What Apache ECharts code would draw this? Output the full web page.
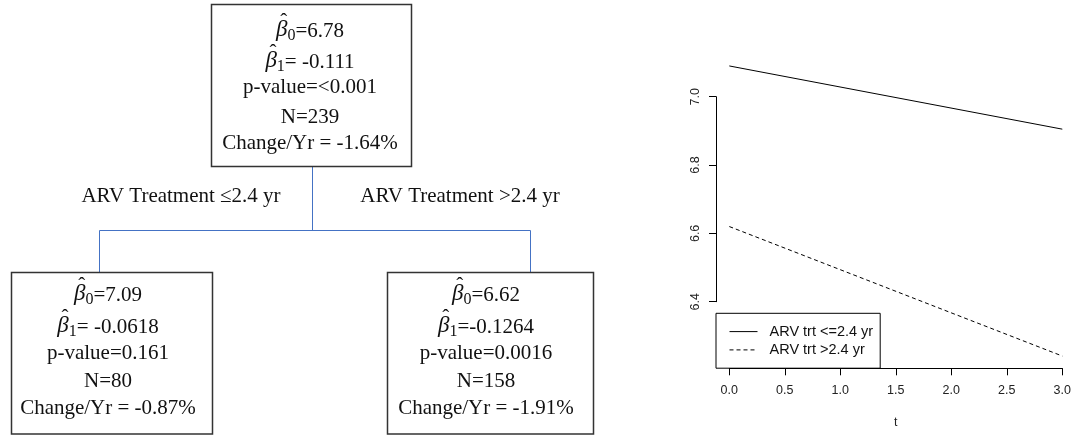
<!DOCTYPE html>
<html>
<head>
<meta charset="utf-8">
<script src="https://cdn.jsdelivr.net/npm/echarts@6/dist/echarts.min.js"></script>
<style>
html,body{margin:0;padding:0;background:#fff;}
#chart{width:1074px;height:436px;}
</style>
</head>
<body>
<div id="chart"></div>
<script>
// ---------- data ----------
const tValues = [0, 3];
const seriesNames = ['ARV trt <=2.4 yr', 'ARV trt >2.4 yr'];
const lowTrtValues = [7.09, 6.905];
const highTrtValues = [6.62, 6.241];

const nodeBeta0 = ['6.78', '7.09', '6.62'];
const nodeBeta1 = [' -0.111', ' -0.0618', '-0.1264'];
const nodePValue = ['<0.001', '0.161', '0.0016'];
const nodeN = ['239', '80', '158'];
const nodeChange = ['-1.64%', '-0.87%', '-1.91%'];
const branchLabels = ['ARV Treatment \u22642.4 yr', 'ARV Treatment >2.4 yr'];

// ---------- layout (diagram) ----------
const boxes = [
  {x: 211, y: 4, w: 200, h: 162, cx: 310, lineY: [31, 62, 87, 117, 143]},
  {x: 11, y: 272, w: 201, h: 161.5, cx: 108, lineY: [295, 327, 353, 381, 408]},
  {x: 387, y: 272, w: 206, h: 161.5, cx: 486, lineY: [295, 327, 353, 381, 408]}
];
const branchPos = [[181, 196], [460, 196]];
const serif = '"Liberation Serif", "Times New Roman", serif';
const fontMain = '21px ' + serif;
const fontBeta = 'italic 23px ' + serif;
const fontSub = '16px ' + serif;
const txtColor = '#111';

const mctx = document.createElement('canvas').getContext('2d');
function textWidth(font, s) { mctx.font = font; return mctx.measureText(s).width; }

const graphics = [];
function addText(text, x, y, font, align) {
  graphics.push({
    type: 'text', z: 11,
    style: {text: text, x: x, y: y, align: align || 'center', verticalAlign: 'middle',
      font: font, fill: txtColor}
  });
}
boxes.forEach((b, i) => {
  graphics.push({
    type: 'rect', z: 10,
    shape: {x: b.x + 0.5, y: b.y + 0.5, width: b.w, height: b.h},
    style: {fill: '#fff', stroke: '#333', lineWidth: 1.5}
  });
  const betaLines = [['0', '=' + nodeBeta0[i]], ['1', '=' + nodeBeta1[i]]];
  betaLines.forEach((bl, k) => {
    const y = b.lineY[k];
    const wB = textWidth(fontBeta, '\u03B2');
    const wS = textWidth(fontSub, bl[0]);
    const wR = textWidth(fontMain, bl[1]);
    const x0 = b.cx - (wB + wS + wR) / 2;
    addText('\u03B2', x0, y - 1, fontBeta, 'left');
    addText('\u02C6', x0 + wB / 2 + 2, y - 8.5, fontMain, 'center');
    addText(bl[0], x0 + wB, y + 5, fontSub, 'left');
    addText(bl[1], x0 + wB + wS, y, fontMain, 'left');
  });
  addText('p-value=' + nodePValue[i], b.cx, b.lineY[2], fontMain);
  addText('N=' + nodeN[i], b.cx, b.lineY[3], fontMain);
  addText('Change/Yr = ' + nodeChange[i], b.cx, b.lineY[4], fontMain);
});
// connectors
graphics.push({
  type: 'polyline', z: 5,
  shape: {points: [[312.5, 166], [312.5, 230.5]]},
  style: {stroke: '#4472C4', lineWidth: 1, fill: null}
});
graphics.push({
  type: 'polyline', z: 5,
  shape: {points: [[99.5, 272], [99.5, 230.5], [530.5, 230.5], [530.5, 272]]},
  style: {stroke: '#4472C4', lineWidth: 1, fill: null}
});
branchLabels.forEach((t, i) => addText(t, branchPos[i][0], branchPos[i][1], fontMain));

// ---------- chart ----------
const sans = '"Liberation Sans", Arial, Helvetica, sans-serif';
const chart = echarts.init(document.getElementById('chart'), null, {renderer: 'canvas'});
chart.setOption({
  animation: false,
  backgroundColor: '#fff',
  graphic: graphics,
  grid: {left: 729.3, right: 11.7, top: 96.7, bottom: 134.3},
  xAxis: {
    type: 'value', min: 0, max: 3, interval: 0.5, offset: 66.6,
    axisLine: {show: true, onZero: false, lineStyle: {color: '#000', width: 1}},
    axisTick: {show: true, length: 7, lineStyle: {color: '#000', width: 1}},
    axisLabel: {margin: 16, color: '#222', fontSize: 12.5, fontFamily: sans,
      formatter: v => v.toFixed(1)},
    splitLine: {show: false},
    name: 't', nameLocation: 'middle', nameGap: 48,
    nameTextStyle: {color: '#222', fontSize: 12.5, fontFamily: sans}
  },
  yAxis: {
    type: 'value', min: 6.4, max: 7.0, interval: 0.2, offset: 13.3,
    axisLine: {show: true, onZero: false, lineStyle: {color: '#000', width: 1}},
    axisTick: {show: true, length: 7, lineStyle: {color: '#000', width: 1}},
    axisLabel: {rotate: 90, margin: 14, color: '#222', fontSize: 12.5, fontFamily: sans,
      formatter: v => v.toFixed(1)},
    splitLine: {show: false}
  },
  legend: {
    orient: 'vertical', left: 716, top: 313.3,
    borderColor: '#000', borderWidth: 1, borderRadius: 0,
    padding: [10.3, 7, 10.3, 13],
    itemWidth: 28, itemHeight: 14, itemGap: 2.3,
    itemStyle: {opacity: 0},
    lineStyle: {width: 1},
    textStyle: {fontSize: 14.5, color: '#111', fontFamily: sans, lineHeight: 16, padding: [0, 0, 0, 7]},
    data: seriesNames
  },
  series: [
    {
      name: seriesNames[0], type: 'line', symbol: 'none', clip: false,
      data: tValues.map((t, i) => [t, lowTrtValues[i]]),
      lineStyle: {color: '#000', width: 1, type: 'solid'},
      itemStyle: {color: '#000'}
    },
    {
      name: seriesNames[1], type: 'line', symbol: 'none', clip: false,
      data: tValues.map((t, i) => [t, highTrtValues[i]]),
      lineStyle: {color: '#000', width: 1, type: [4, 3]},
      itemStyle: {color: '#000'}
    }
  ]
});
</script>
</body>
</html>
